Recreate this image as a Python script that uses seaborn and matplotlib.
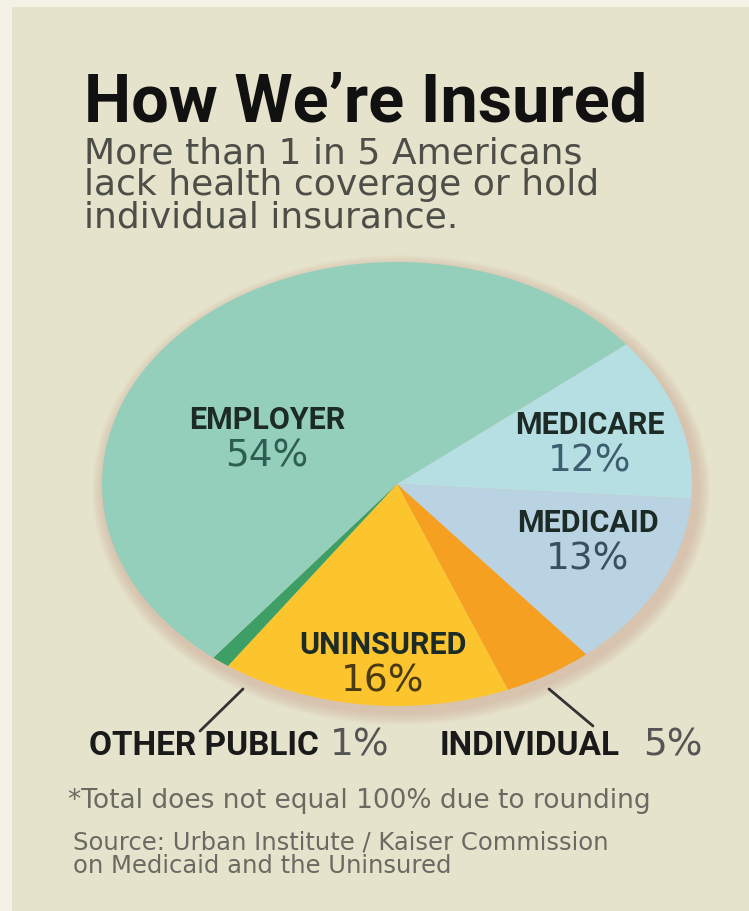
import matplotlib
matplotlib.use("Agg")
import matplotlib.pyplot as plt
from matplotlib.patches import Ellipse, Rectangle
import seaborn as sns

# Share of Americans by source of health coverage (percent)
categories = ["Medicare", "Medicaid", "Individual", "Uninsured", "Other Public", "Employer"]
shares = [12, 13, 5, 16, 1, 54]
wedge_colors = ["#b6dfe3", "#b9d3e2", "#f5a020", "#fcc52e", "#3e9f66", "#93cfba"]

title = "How We\u2019re Insured"
subtitle = ["More than 1 in 5 Americans", "lack health coverage or hold", "individual insurance."]
footnote = "*Total does not equal 100% due to rounding"
source = ["Source: Urban Institute / Kaiser Commission", "on Medicaid and the Uninsured"]

sns.set_theme(style="white")
BOLD = ["Roboto", "DejaVu Sans"]
PLAIN = ["DejaVu Sans"]
plt.rcParams["font.family"] = PLAIN

W, H = 749, 912
fig = plt.figure(figsize=(W / 100, H / 100), dpi=100, facecolor="#f4f2e6")
bg = fig.add_axes([0, 0, 1, 1])
bg.set_xlim(0, W)
bg.set_ylim(H, 0)
bg.axis("off")
bg.add_patch(Rectangle((12, 8), W - 12, H - 8, facecolor="#e6e3cc", edgecolor="none"))

# soft shadow under the pie
cx, cy, rx, ry = 397, 485, 295, 222
for k in range(10):
    bg.add_patch(Ellipse((cx + 4, cy + 6), 2 * rx + 28 - 2.6 * k, 2 * ry + 26 - 2.6 * k,
                         facecolor="#c9a08c", edgecolor="none", alpha=0.05))

# elliptical pie
ax = fig.add_axes([(cx - rx) / W, (H - cy - ry) / H, 2 * rx / W, 2 * ry / H])
ax.pie(shares, colors=wedge_colors, startangle=39, counterclock=False,
       wedgeprops=dict(linewidth=0), radius=1)
ax.set_aspect("auto")
ax.set_xlim(-1, 1)
ax.set_ylim(-1, 1)
ax.axis("off")

def px(x, y):
    return x / W, 1 - y / H

# title block
fig.text(*px(84, 104), title, family=BOLD, fontsize=48, fontweight="bold",
         color="#111111", va="center", ha="left")
for i, line in enumerate(subtitle):
    fig.text(*px(84, 153 + 32 * i), line, family=PLAIN, fontsize=26,
             color="#4e4e48", va="center", ha="left")

# wedge labels
dark = "#1d2b27"
def wedge_label(x, y, name, val, val_color):
    fig.text(*px(x, y), name, family=BOLD, fontsize=22, fontweight="bold",
             color=dark, ha="center", va="center")
    fig.text(*px(x, y + 37), f"{val}%", family=PLAIN, fontsize=27,
             color=val_color, ha="center", va="center")

wedge_label(267, 420, "EMPLOYER", shares[5], "#2e5e52")
wedge_label(590, 425, "MEDICARE", shares[0], "#3c5e6e")
wedge_label(588, 523, "MEDICAID", shares[1], "#384e62")
wedge_label(383, 645, "UNINSURED", shares[3], "#4a3a10")

# callouts for the small wedges
bg.plot([243, 200], [690, 732], color="#333333", lw=2)
bg.plot([549, 593], [690, 727], color="#333333", lw=2)
fig.text(*px(89, 746), "OTHER PUBLIC", family=BOLD, fontsize=24, fontweight="bold",
         color="#1a1a1a", ha="left", va="center")
fig.text(*px(330, 746), f"{shares[4]}%", family=PLAIN, fontsize=27,
         color="#555555", ha="left", va="center")
fig.text(*px(440, 746), "INDIVIDUAL", family=BOLD, fontsize=24, fontweight="bold",
         color="#1a1a1a", ha="left", va="center")
fig.text(*px(643, 746), f"{shares[2]}%", family=PLAIN, fontsize=27,
         color="#555555", ha="left", va="center")

# notes
fig.text(*px(68, 801), footnote, family=PLAIN, fontsize=19, color="#6a6a62",
         ha="left", va="center")
for i, line in enumerate(source):
    fig.text(*px(73, 843 + 23 * i), line, family=PLAIN, fontsize=17.5,
             color="#6a6a62", ha="left", va="center")

fig.savefig("out.png", dpi=100, facecolor=fig.get_facecolor())
